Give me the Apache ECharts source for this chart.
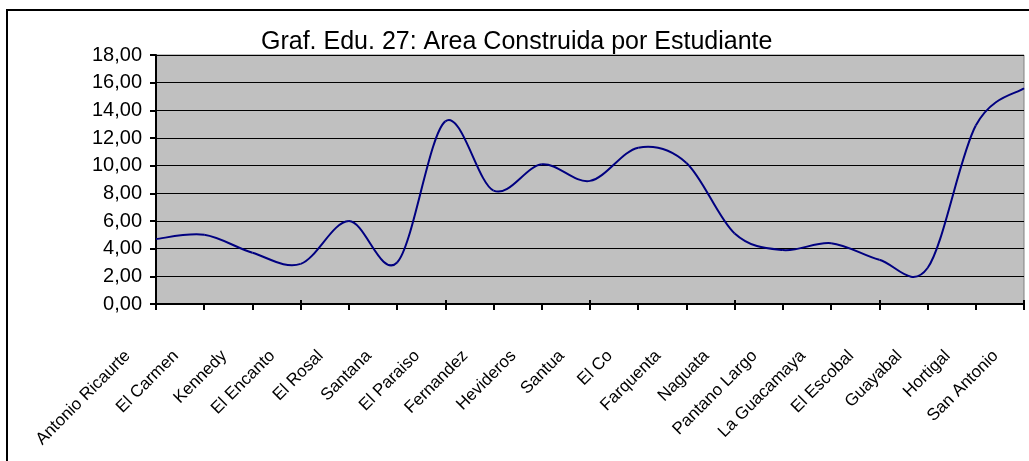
<!DOCTYPE html>
<html>
<head>
<meta charset="utf-8">
<script src="https://cdn.jsdelivr.net/npm/echarts@6/dist/echarts.min.js"></script>
<style>
  html, body { margin: 0; padding: 0; background: #fff; }
  #chart { width: 1029px; height: 461px; }
</style>
</head>
<body>
<div id="chart"></div>
<script>
// schools along the x axis
const categories = [
  'Antonio Ricaurte', 'El Carmen', 'Kennedy', 'El Encanto', 'El Rosal',
  'Santana', 'El Paraiso', 'Fernandez', 'Hevideros', 'Santua',
  'El Co', 'Farquenta', 'Naguata', 'Pantano Largo', 'La Guacamaya',
  'El Escobal', 'Guayabal', 'Hortigal', 'San Antonio'
];
// area construida por estudiante
const areaPerStudent = [
  4.7, 5.0, 3.7, 2.9, 6.0,
  3.0, 13.2, 8.2, 10.1, 8.9,
  11.3, 10.2, 5.1, 3.9, 4.4,
  3.2, 2.6, 12.9, 15.6
];
const yMin = 0;
const yMax = 18;
const yStep = 2;

const font = '"Liberation Sans", Arial, sans-serif';
const tension = 1 / 6; // spreadsheet style smoothed line (catmull-rom)
const chart = echarts.init(document.getElementById('chart'));

// one bezier piece from point i to point i+1
function renderSegment(params, api) {
  const i = params.dataIndex;
  const last = areaPerStudent.length - 1;
  if (i >= last) return null;
  const pt = k => {
    const j = Math.max(0, Math.min(last, k));
    return api.coord([j, areaPerStudent[j]]);
  };
  const p0 = pt(i - 1), p1 = pt(i), p2 = pt(i + 1), p3 = pt(i + 2);
  return {
    type: 'bezierCurve',
    silent: true,
    shape: {
      x1: p1[0], y1: p1[1],
      x2: p2[0], y2: p2[1],
      cpx1: p1[0] + (p2[0] - p0[0]) * tension,
      cpy1: p1[1] + (p2[1] - p0[1]) * tension,
      cpx2: p2[0] - (p3[0] - p1[0]) * tension,
      cpy2: p2[1] - (p3[1] - p1[1]) * tension
    },
    style: { fill: 'none', stroke: '#000080', lineWidth: 2 }
  };
}

chart.setOption({
  backgroundColor: '#fff',
  animation: false,
  title: {
    text: 'Graf. Edu. 27: Area Construida por Estudiante',
    left: 261,
    top: 30,
    padding: 0,
    textStyle: { fontFamily: font, fontSize: 25, fontWeight: 'normal', color: '#000' }
  },
  graphic: [{
    type: 'rect',
    silent: true,
    shape: { x: 7, y: 10, width: 1100, height: 500 },
    style: { fill: 'none', stroke: '#000', lineWidth: 2 }
  }],
  grid: {
    left: 156, top: 55, right: 5, bottom: 157,
    show: true,
    backgroundColor: '#c0c0c0',
    borderColor: '#808080',
    borderWidth: 1
  },
  xAxis: [{
    type: 'category',
    data: categories,
    boundaryGap: false,
    axisLine: { lineStyle: { color: '#000', width: 2 } },
    axisTick: { length: 6, lineStyle: { color: '#000', width: 2 } },
    axisLabel: {
      interval: 0,
      rotate: 45,
      margin: 21,
      padding: [0, 40, 0, 0],
      fontFamily: font,
      fontSize: 17,
      color: '#000'
    }
  }, {
    // upper half of the crossing tick marks
    type: 'category',
    data: categories,
    boundaryGap: false,
    position: 'bottom',
    axisLine: { show: false },
    axisTick: { inside: true, length: 4, lineStyle: { color: '#000', width: 2 } },
    axisLabel: { show: false },
    splitLine: { show: false }
  }],
  yAxis: {
    type: 'value',
    min: yMin,
    max: yMax,
    interval: yStep,
    axisLine: { show: true, lineStyle: { color: '#000', width: 2 } },
    axisTick: { show: true, length: 6, lineStyle: { color: '#000', width: 2 } },
    splitLine: { lineStyle: { color: '#000', width: 1 } },
    axisLabel: {
      margin: 14,
      fontFamily: font,
      fontSize: 20,
      color: '#000',
      formatter: v => v.toFixed(2).replace('.', ',')
    }
  },
  series: [{
    type: 'custom',
    renderItem: renderSegment,
    data: areaPerStudent.map((v, i) => [i, v]),
    encode: { x: 0, y: 1 },
    z: 5
  }]
});
</script>
</body>
</html>
